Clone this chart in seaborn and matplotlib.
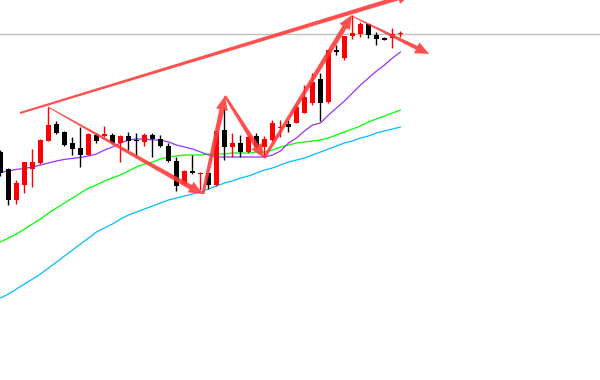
import numpy as np
import pandas as pd
import matplotlib
matplotlib.use("Agg")
import matplotlib.pyplot as plt
import seaborn as sns
from matplotlib.patches import Polygon
from matplotlib.transforms import IdentityTransform

# ---- candle data (price units) ----
opens = [1874, 1865.5, 1850, 1857.5, 1865.5, 1868.5, 1879.5, 1888, 1884, 1878.5,
         1876, 1872.5, 1882.5, 1882, 1882.5, 1878.5, 1882, 1880, 1879, 1882.5,
         1880.5, 1877, 1869.5, 1858, 1864.5, 1863, 1863.5, 1857.5, 1885, 1876.5,
         1878.5, 1874, 1882, 1876.5, 1880, 1886, 1888, 1888.5, 1893.5, 1898.5,
         1910.5, 1899, 1925, 1921, 1932, 1933, 1938, 1932.5, 1930.5, 1931, 1933]
closes = [1863.5, 1850, 1858.5, 1869, 1869, 1880, 1887.5, 1883.5, 1877.5, 1875.5,
          1872.5, 1883, 1879.5, 1883, 1878.5, 1882, 1879.5, 1879.5, 1882.5, 1880.5,
          1877, 1869.5, 1857, 1864.5, 1863.5, 1863.5, 1857.5, 1884.5, 1876.5, 1878.5,
          1874, 1881.5, 1876.5, 1880.5, 1888.5, 1886.5, 1886.5, 1896.5, 1901.5, 1909,
          1898.5, 1925, 1924, 1932, 1933.5, 1938, 1932.5, 1930.5, 1930.25, 1933, 1933.5]
highs = [1875, 1866, 1860, 1869, 1875.5, 1880.5, 1896.5, 1889.5, 1884.5, 1881.5,
         1886.5, 1883.5, 1883.5, 1887, 1883.5, 1882.5, 1884, 1883.5, 1883.5, 1883.5,
         1882.5, 1878.5, 1871.5, 1865, 1872.5, 1864, 1864, 1885, 1896, 1883.5,
         1882.5, 1882.5, 1883.5, 1882, 1890, 1890, 1890, 1897.5, 1907.5, 1913.5,
         1913.5, 1925, 1927.5, 1932, 1942.5, 1939, 1938, 1934, 1931.5, 1936, 1934.5]
lows = [1862, 1847.5, 1848, 1853.5, 1856.5, 1868, 1879.5, 1883, 1877, 1872.5,
        1866.5, 1872.5, 1878.5, 1881.5, 1878, 1869, 1875, 1872, 1877, 1871.5,
        1876.5, 1869, 1854.5, 1857.5, 1863, 1855, 1855.5, 1857, 1870, 1871.5,
        1871.5, 1873.5, 1876, 1872, 1879.5, 1881.5, 1884, 1888.5, 1893.5, 1897.5,
        1889.5, 1898.5, 1922.5, 1920, 1930.5, 1931.5, 1931, 1927.5, 1930, 1926, 1931.5]

# ---- moving averages ----
ma_purple = [1863.8, 1864.5, 1865.3, 1865.8, 1866.5, 1867.5, 1868.5, 1869.5, 1870.3, 1870.8,
             1871.3, 1872, 1873, 1875, 1876.5, 1878.5, 1880, 1880.5, 1880.5, 1880,
             1880, 1879, 1877.5, 1876.5, 1875.5, 1874, 1872.5, 1871.5, 1871.5, 1871.5,
             1871.5, 1871.5, 1871.5, 1871.5, 1872.5, 1874.5, 1878.5, 1881, 1884.5, 1887.5,
             1888.5, 1892.5, 1896, 1899.5, 1903.5, 1907.5, 1911, 1914.5, 1917.5, 1921, 1924]
ma_green = [1829, 1831, 1833, 1835.5, 1838, 1840.5, 1843.5, 1846, 1848.5, 1851,
            1853.5, 1856, 1857.5, 1859.5, 1861, 1862.5, 1864.5, 1866.5, 1868, 1869,
            1870.5, 1871.5, 1872, 1872.5, 1872.5, 1872.5, 1873, 1873, 1873, 1873.5,
            1873.5, 1873.5, 1874, 1874, 1875, 1876.5, 1877.5, 1878.5, 1879, 1879.5,
            1880, 1881, 1882.5, 1884, 1885.5, 1887, 1889, 1890.5, 1892, 1893.5, 1895]
ma_blue = [1801, 1803, 1805.5, 1808, 1810.5, 1813, 1816, 1819, 1822, 1825,
           1828, 1831, 1834, 1836, 1838, 1840.5, 1842.5, 1844, 1845.5, 1847,
           1848.5, 1850, 1851, 1852, 1853, 1854, 1855.5, 1857, 1858.5, 1859.5,
           1861, 1862, 1863.5, 1865, 1866, 1867.5, 1869, 1870, 1871, 1872.5,
           1874, 1875.5, 1877, 1878.5, 1879.5, 1881, 1882, 1883.5, 1884.5, 1885.5, 1886.5]

ref_level = 1933

# ---- drawn arrows (bar index, price) ----
arrow_starts = [(2.44, 1893.5), (5.94, 1896.5), (25.3, 1853), (28.06, 1902), (32.94, 1871), (43.94, 1942)]
arrow_ends = [(51.4, 1953), (25.3, 1853), (28.06, 1902), (32.94, 1871), (43.94, 1942.5), (53.6, 1923)]
arrow_w0 = [2.0, 1.0, 3.0, 2.5, 3.0, 1.0]
arrow_w1 = [4.5, 5.0, 5.0, 5.0, 5.0, 4.0]

df = pd.DataFrame({"i": np.arange(len(opens)), "open": opens, "close": closes,
                   "high": highs, "low": lows, "ma1": ma_purple, "ma2": ma_green, "ma3": ma_blue})

sns.set_theme(style="white")
fig = plt.figure(figsize=(6, 3.8), dpi=100)
ax = fig.add_axes([0, 0, 1, 1])
ax.set_xlim(-0.0625, 74.94)
ax.set_ylim(1760, 1950)
ax.axis("off")

ax.axhline(ref_level, color="#c0c0c0", lw=1, zorder=1)

sns.lineplot(data=df, x="i", y="ma3", color="#00bfff", lw=0.9, ax=ax, zorder=2)
sns.lineplot(data=df, x="i", y="ma2", color="#00ff00", lw=0.9, ax=ax, zorder=2)
sns.lineplot(data=df, x="i", y="ma1", color="#9932ff", lw=0.9, ax=ax, zorder=2)

up = df["close"] >= df["open"]
cols = np.where(up, "#ff0000", "#000000")
ax.vlines(df["i"], df["low"], df["high"], colors=cols, lw=1, zorder=3)
body_bottom = np.minimum(df["open"], df["close"])
body_h = np.maximum(np.abs(df["close"] - df["open"]), 0.7)
ax.bar(df["i"], body_h, bottom=body_bottom, width=0.62, color=cols, linewidth=0, zorder=4)
ax.set_xlim(-0.0625, 74.94)
ax.set_ylim(1760, 1950)


def tapered_arrow(p0, p1, w0, w1, hl=14, hw=12, color="#ff3838"):
    a = ax.transData.transform(p0)
    b = ax.transData.transform(p1)
    d = b - a
    L = np.hypot(*d)
    u = d / L
    n = np.array([-u[1], u[0]])
    base = b - u * hl
    pts = [a + n * w0 / 2, base + n * w1 / 2, base + n * hw / 2, b,
           base - n * hw / 2, base - n * w1 / 2, a - n * w0 / 2]
    ax.add_patch(Polygon(pts, closed=True, transform=IdentityTransform(),
                         facecolor=color, edgecolor="none", alpha=0.88, zorder=5))


for s, e, w0, w1 in zip(arrow_starts, arrow_ends, arrow_w0, arrow_w1):
    tapered_arrow(s, e, w0, w1)

fig.savefig("out.png", dpi=100)
